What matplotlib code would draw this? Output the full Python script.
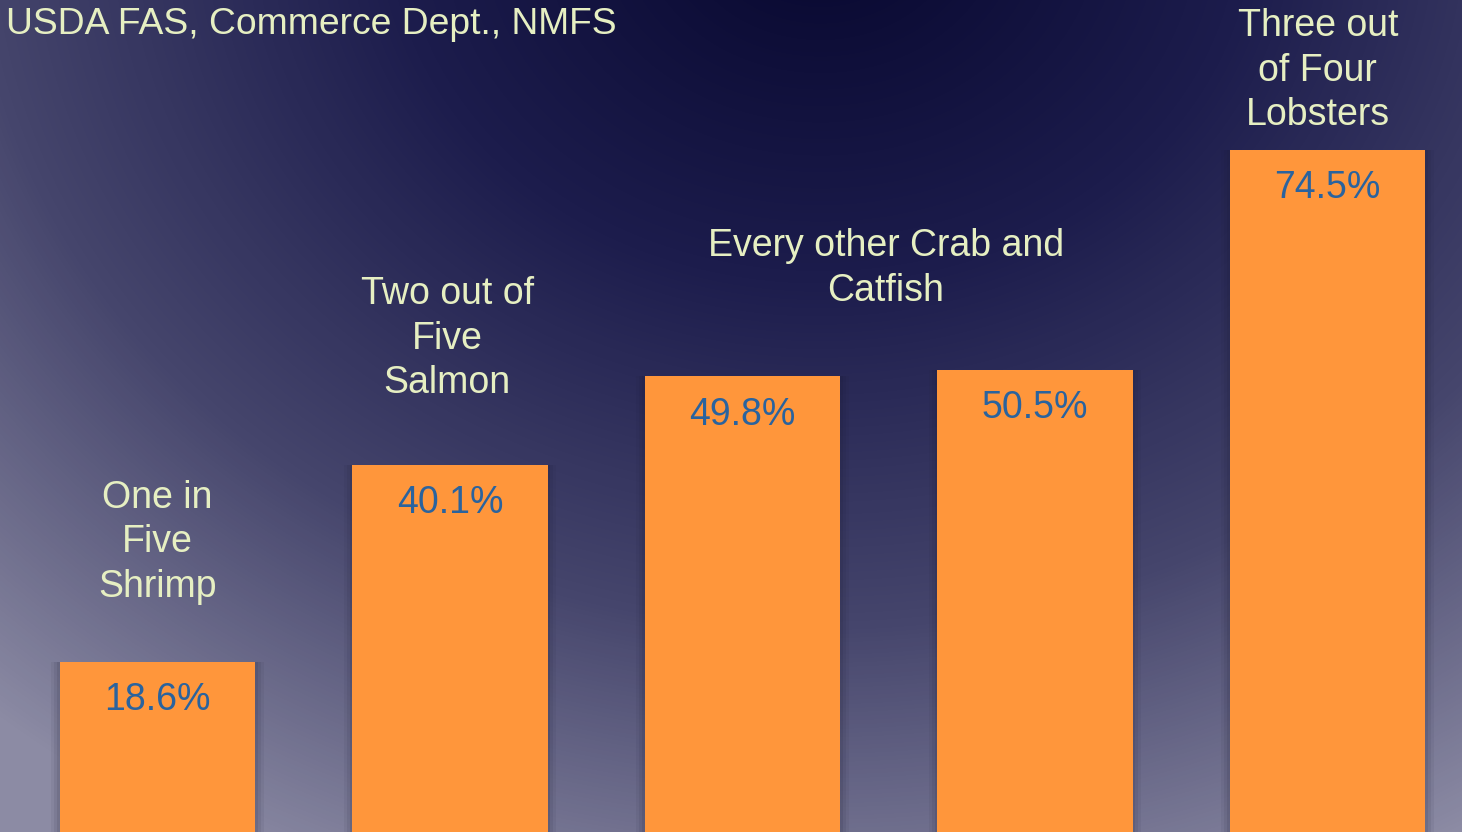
import numpy as np
import matplotlib
matplotlib.use('Agg')
import matplotlib.pyplot as plt
from matplotlib.colors import LinearSegmentedColormap

plt.rcParams['font.family'] = ['Liberation Sans', 'DejaVu Sans']

# data
species = ['Shrimp', 'Salmon', 'Crab', 'Catfish', 'Lobsters']
share = [18.6, 40.1, 49.8, 50.5, 74.5]
value_labels = ['18.6%', '40.1%', '49.8%', '50.5%', '74.5%']
notes = ['One in\nFive\nShrimp', 'Two out of\nFive\nSalmon',
         'Every other Crab and\nCatfish', 'Three out\nof Four\nLobsters']
note_x = [0.0, 0.99, 2.49, 3.967]
note_y = [31.65, 53.9, 61.55, 83.15]
source = 'USDA FAS, Commerce Dept., NMFS'

W, H = 1462, 832
fig = plt.figure(figsize=(W / 100, H / 100), dpi=100)

# background: radial gradient, dark at top centre
bg = fig.add_axes([0, 0, 1, 1])
xx, yy = np.meshgrid(np.arange(W), np.arange(H))
d = np.sqrt(((xx - 820) / 1050.0) ** 2 + ((yy + 80) / 880.0) ** 2)
d = np.clip(d / 1.2, 0, 1)
cmap = LinearSegmentedColormap.from_list('bg', ['#07072e', '#1c1c4c', '#45456c', '#8c8ba4'])
bg.imshow(d, cmap=cmap, aspect='auto', extent=[0, W, H, 0], vmin=0, vmax=1)
bg.axis('off')

ax = fig.add_axes([0, 0, 1, 1])
ax.patch.set_alpha(0)
x = np.arange(len(share))
ax.set_xlim(-157.5 / 292.5, (W - 157.5) / 292.5)
ax.set_ylim(0, H / 9.155)

# soft shadow beside bars
for k, a in [(0.03, 0.06), (0.02, 0.08), (0.01, 0.10)]:
    ax.bar(x, share, width=0.667 + 2 * k, color='#1a1a30', alpha=a, linewidth=0)
ax.bar(x, share, width=0.667, color='#ff963b', linewidth=0)

for xi, v, lab in zip(x, share, value_labels):
    ax.text(xi, v - 4.2, lab, ha='center', va='center', fontsize=27, color='#2a639e')

for tx, ty, t in zip(note_x, note_y, notes):
    ax.text(tx, ty, t, ha='center', va='center', fontsize=27, color='#e6efc2', linespacing=1.3)

ax.text(0.004, 1 - 24 / H, source, transform=ax.transAxes, ha='left', va='center',
        fontsize=26.8, color='#e6efc2')
ax.axis('off')

fig.savefig('out.png', dpi=100)
